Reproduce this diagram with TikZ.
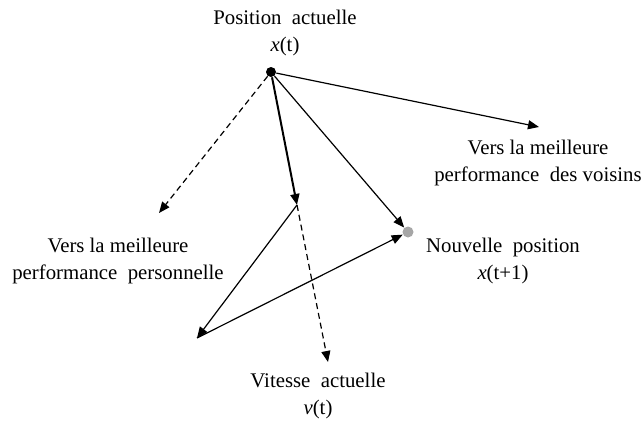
\documentclass[tikz,border=0pt]{standalone}
\usepackage{fontspec}
\setmainfont{Liberation Serif}
\usetikzlibrary{arrows.meta}
\begin{document}
\begin{tikzpicture}[x=0.5pt,y=-0.5pt,font=\fontsize{10.4}{13.5}\selectfont,
  vec/.style={-{Triangle[length=5.5pt,width=4.5pt]},line width=.6pt},
  lbl/.style={align=center,inner sep=0pt}]
  \useasboundingbox (0,0) rectangle (644,423);
  \node[circle,fill=black,inner sep=0pt,minimum size=5pt] (xt) at (271,72) {};
  \node[circle,fill=black!35,inner sep=0pt,minimum size=5.5pt] (xt1) at (408,232) {};
  \coordinate (vt) at (297,205);
  \coordinate (pbest) at (159,213);
  \coordinate (gbest) at (539,127);
  \coordinate (vend) at (328,362);
  \coordinate (comb) at (197,338);
  \draw[vec] (xt) -- (gbest);
  \draw[vec,dash pattern=on 3pt off 2pt] (xt) -- (pbest);
  \draw[vec,line width=1pt] (xt) -- (vt);
  \draw[vec,dash pattern=on 3pt off 2pt] (vt) -- (vend);
  \draw[vec] (vt) -- (comb);
  \draw[vec] (comb) -- (xt1);
  \draw[vec] (xt) -- (xt1);
  \node[lbl] (pos) at (285,33) {Position\ \ actuelle\\\textit{x}(t)};
  \node[lbl] (voisins) at (538,163) {Vers la meilleure\\performance\ \ des voisins};
  \node[lbl] (perso) at (118,261) {Vers la meilleure\\performance\ \ personnelle};
  \node[lbl] (nouv) at (503,261) {Nouvelle\ \ position\\\textit{x}(t+1)};
  \node[lbl] (vit) at (318,396) {Vitesse\ \ actuelle\\\textit{v}(t)};
\end{tikzpicture}
\end{document}
